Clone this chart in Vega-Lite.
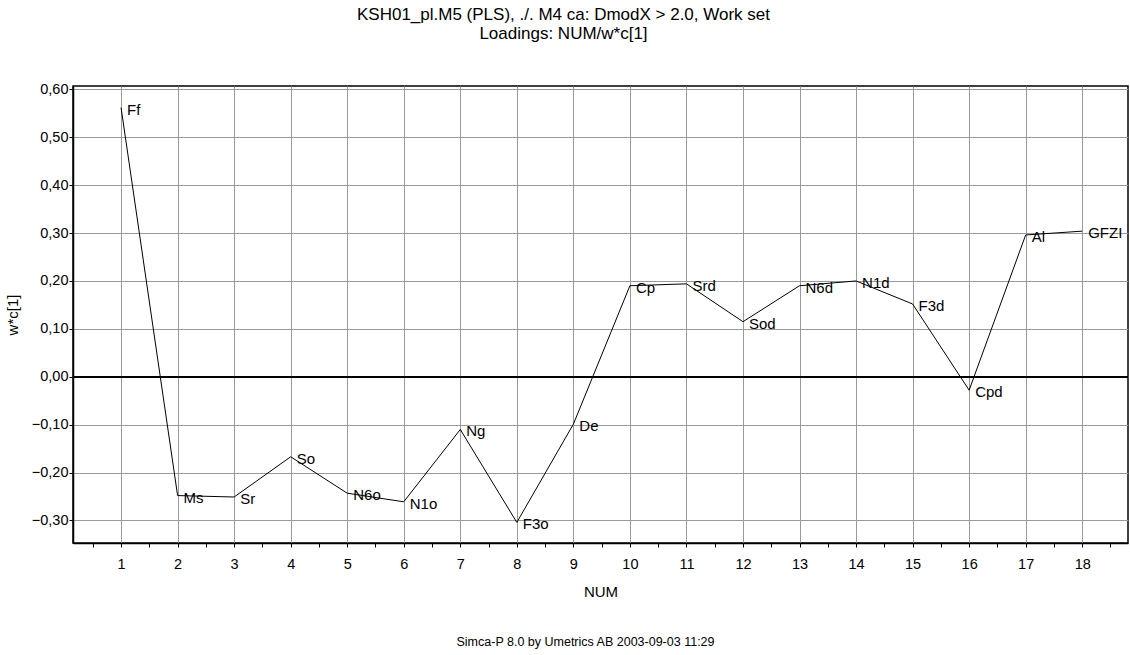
{
  "$schema": "https://vega.github.io/schema/vega-lite/v6.json",
  "width": 1055,
  "height": 457,
  "autosize": "none",
  "padding": {"left": 73, "top": 86, "right": 2, "bottom": 112},
  "background": "white",
  "config": {
    "font": "Liberation Sans",
    "view": {"stroke": "black", "strokeWidth": 1.5},
    "axis": {"labelFont": "Liberation Sans", "titleFont": "Liberation Sans", "labelColor": "black", "titleColor": "black", "titleFontWeight": "normal"}
  },
  "title": {
    "text": ["KSH01_pl.M5 (PLS), ./. M4 ca: DmodX > 2.0, Work set", "Loadings: NUM/w*c[1]"],
    "fontSize": 17,
    "fontWeight": "normal",
    "font": "Liberation Sans",
    "lineHeight": 19,
    "anchor": "middle",
    "dx": -37,
    "offset": 38,
    "color": "black"
  },
  "data": {
    "values": [
      {"NUM": 1, "w": 0.562, "name": "Ff"},
      {"NUM": 2, "w": -0.248, "name": "Ms"},
      {"NUM": 3, "w": -0.251, "name": "Sr"},
      {"NUM": 4, "w": -0.167, "name": "So"},
      {"NUM": 5, "w": -0.243, "name": "N6o"},
      {"NUM": 6, "w": -0.261, "name": "N1o"},
      {"NUM": 7, "w": -0.110, "name": "Ng"},
      {"NUM": 8, "w": -0.304, "name": "F3o"},
      {"NUM": 9, "w": -0.099, "name": "De"},
      {"NUM": 10, "w": 0.190, "name": "Cp"},
      {"NUM": 11, "w": 0.194, "name": "Srd"},
      {"NUM": 12, "w": 0.115, "name": "Sod"},
      {"NUM": 13, "w": 0.190, "name": "N6d"},
      {"NUM": 14, "w": 0.200, "name": "N1d"},
      {"NUM": 15, "w": 0.152, "name": "F3d"},
      {"NUM": 16, "w": -0.028, "name": "Cpd"},
      {"NUM": 17, "w": 0.296, "name": "Al"},
      {"NUM": 18, "w": 0.304, "name": "GFZI"}
    ]
  },
  "resolve": {"axis": {"x": "independent"}},
  "layer": [
    {
      "mark": {"type": "line", "color": "black", "strokeWidth": 1},
      "encoding": {
        "x": {
          "field": "NUM", "type": "quantitative",
          "scale": {"domain": [0.15, 18.81], "nice": false, "zero": false},
          "axis": {
            "title": "NUM", "titleFontSize": 15, "titlePadding": 14,
            "values": [0.5,1,1.5,2,2.5,3,3.5,4,4.5,5,5.5,6,6.5,7,7.5,8,8.5,9,9.5,10,10.5,11,11.5,12,12.5,13,13.5,14,14.5,15,15.5,16,16.5,17,17.5,18,18.5],
            "labelExpr": "datum.value % 1 == 0 ? datum.value : ''",
            "labelFontSize": 14.5, "labelPadding": 10, "labelFlush": false,
            "tickSize": 4, "tickColor": "black", "domainColor": "black", "domainWidth": 1.5,
            "grid": true, "gridColor": "#9a9a9a", "gridWidth": 1,
            "gridOpacity": {"condition": {"test": "datum.value % 1 != 0", "value": 0}, "value": 1}
          }
        },
        "y": {
          "field": "w", "type": "quantitative",
          "scale": {"domain": [-0.347, 0.607], "nice": false, "zero": false},
          "axis": {
            "title": "w*c[1]", "titleFontSize": 15, "titlePadding": 11,
            "values": [-0.3,-0.25,-0.2,-0.15,-0.1,-0.05,0,0.05,0.1,0.15,0.2,0.25,0.3,0.35,0.4,0.45,0.5,0.55,0.6],
            "labelExpr": "abs(round(datum.value*20)) % 2 == 0 ? replace(format(datum.value, '.2f'), '.', ',') : ''",
            "labelFontSize": 14.5, "labelPadding": 1,
            "tickSize": 4, "tickColor": "black", "domainColor": "black", "domainWidth": 1.5,
            "grid": true, "gridColor": "#9a9a9a", "gridWidth": 1,
            "gridOpacity": {"condition": {"test": "abs(round(datum.value*20)) % 2 != 0", "value": 0}, "value": 1}
          }
        }
      }
    },
    {
      "mark": {"type": "rule", "color": "black", "strokeWidth": 1},
      "encoding": {"y": {"datum": 0, "type": "quantitative"}}
    },
    {
      "mark": {"type": "text", "align": "left", "baseline": "middle", "dx": 6, "dy": 2, "fontSize": 15, "color": "black"},
      "encoding": {
        "x": {"field": "NUM", "type": "quantitative", "axis": null},
        "y": {"field": "w", "type": "quantitative"},
        "text": {"field": "name"}
      }
    },
    {
      "mark": {"type": "point", "opacity": 0},
      "encoding": {
        "x": {
          "field": "NUM", "type": "quantitative",
          "axis": {"orient": "bottom", "offset": 92, "title": "Simca-P 8.0 by Umetrics AB 2003-09-03 11:29", "titleFontSize": 12.5, "titlePadding": 0, "labels": false, "ticks": false, "domain": false, "grid": false, "titleX": 512}
        },
        "y": {"field": "w", "type": "quantitative"}
      }
    }
  ]
}
